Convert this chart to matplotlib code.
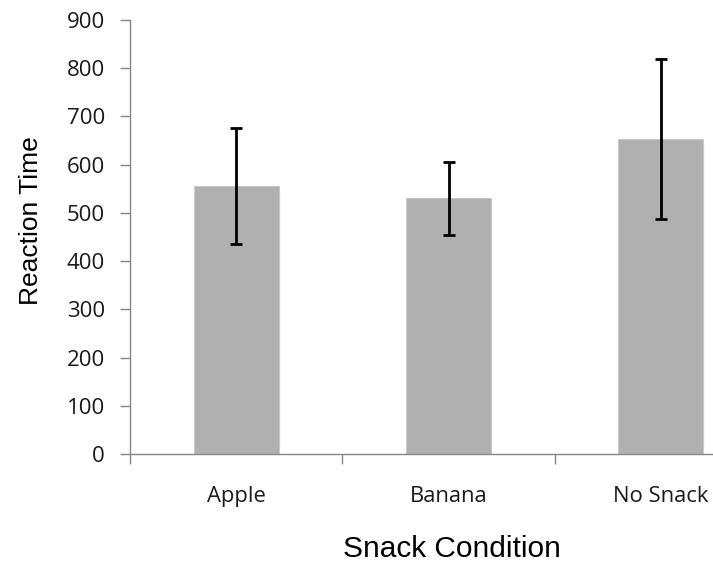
import matplotlib
matplotlib.use("Agg")
import matplotlib.pyplot as plt
from matplotlib.ticker import FixedLocator

categories = ["Apple", "Banana", "No Snack"]
means = [556, 530, 654]
errors = [120, 75, 166]
yticks = [0, 100, 200, 300, 400, 500, 600, 700, 800, 900]

W, H = 713, 563
fig = plt.figure(figsize=(W / 100, H / 100), dpi=100)
# axes extends beyond the right edge (chart is cropped in the reference)
left, right, top, bottom = 130, 767, 20, 454
ax = fig.add_axes([left / W, 1 - bottom / H, (right - left) / W, (bottom - top) / H])

x = list(range(len(categories)))
ax.bar(x, means, width=0.4, color="#B0B0B0", edgecolor="#C8C8C8", linewidth=0.8, zorder=2)
ax.errorbar(x, means, yerr=errors, fmt="none", ecolor="black", elinewidth=2,
            capsize=4.5, capthick=2, zorder=3)

ax.set_xlim(-0.5, 2.5)
ax.set_ylim(0, 900)
ax.set_yticks(yticks)
ax.set_xticks(x)
ax.set_xticklabels(categories, fontname="Open Sans", fontsize=15.8, color="#1a1a1a")
ax.xaxis.set_minor_locator(FixedLocator([-0.5, 0.5, 1.5, 2.5]))
ax.tick_params(axis="x", which="major", length=0, pad=23)
ax.tick_params(axis="x", which="minor", length=7, width=1, color="#868686", direction="out")
ax.tick_params(axis="y", length=7, width=1, color="#868686", direction="out", pad=11,
               labelsize=16, labelcolor="#1a1a1a")
for lab in ax.get_yticklabels():
    lab.set_fontname("Open Sans")

for s in ["top", "right"]:
    ax.spines[s].set_visible(False)
for s in ["left", "bottom"]:
    ax.spines[s].set_color("#868686")
    ax.spines[s].set_linewidth(1)

fig.text(31 / W, 1 - 221 / H, "Reaction Time", rotation=90, ha="center", va="center",
         fontname="Liberation Sans", fontsize=19)
fig.text(452 / W, 1 - 549 / H, "Snack Condition", ha="center", va="center",
         fontname="Liberation Sans", fontsize=21.5)

fig.savefig("out.png", dpi=100)
